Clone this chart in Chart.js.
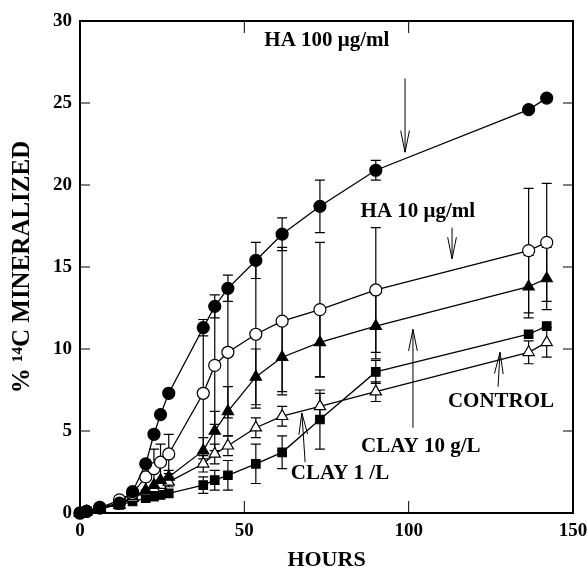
<!DOCTYPE html>
<html>
<head>
<meta charset="utf-8">
<script src="https://cdn.jsdelivr.net/npm/chart.js@4.4.0/dist/chart.umd.min.js"></script>
<style>
  html, body { margin: 0; padding: 0; background: #fff; }
</style>
</head>
<body>
<canvas id="chart" width="587" height="569"></canvas>
<script>
// sampling times (hours)
const hours = [0, 2, 6, 12, 16, 20, 22.5, 24.5, 27, 37.5, 41, 45, 53.5, 61.5, 73, 90, 136.5, 142];

// % 14C mineralized, one array per treatment
const ha100 = [0, 0.1, 0.35, 0.6, 1.3, 3.0, 4.8, 6.0, 7.3, 11.3, 12.6, 13.7, 15.4, 17.0, 18.7, 20.9, 24.6, 25.3];
const ha10 = [0, 0.1, 0.3, 0.8, 1.2, 2.2, 2.7, 3.1, 3.6, 7.3, 9.0, 9.8, 10.9, 11.7, 12.4, 13.6, 16.0, 16.5];
const clay10 = [0, 0.1, 0.3, 0.5, 1.0, 1.4, 1.7, 2.0, 2.2, 3.8, 5.0, 6.2, 8.3, 9.5, 10.4, 11.4, 13.8, 14.3];
const clay1 = [0, 0.1, 0.3, 0.5, 0.9, 1.3, 1.5, 1.7, 1.9, 3.0, 3.6, 4.1, 5.2, 5.9, 6.5, 7.4, 9.8, 10.4];
const control = [0, 0.1, 0.3, 0.5, 0.7, 0.9, 1.0, 1.1, 1.2, 1.7, 2.0, 2.3, 3.0, 3.7, 5.7, 8.6, 10.9, 11.4];

// error bars (+/-)
const ha100Err = [0, 0, 0, 0, 0, 0, 0, 0, 0, 0.5, 0.7, 0.8, 1.1, 1.0, 1.6, 0.6, 0, 0];
const ha10Err = [0, 0, 0, 0, 0, 0.8, 1.2, 1.1, 1.2, 4.0, 3.6, 4.0, 4.5, 4.5, 4.1, 3.8, 3.8, 3.6];
const clay10Err = [0, 0, 0, 0, 0, 0, 0, 0, 0.4, 0.8, 1.2, 1.5, 1.7, 2.1, 2.1, 2.0, 1.9, 1.9];
const clay1Err = [0, 0, 0, 0, 0, 0, 0, 0, 0.3, 0.5, 0.6, 0.6, 0.6, 0.6, 0.8, 0.6, 0.7, 0.9];
const controlErr = [0, 0, 0, 0, 0, 0, 0, 0, 0, 0.5, 0.6, 0.9, 1.2, 1.0, 1.8, 0.7, 0, 0];

const yTicks = [0, 5, 10, 15, 20, 25, 30];
const xTicks = [0, 50, 100, 150];

// labels and arrows drawn in the plot, in data units
const noteText = ['HA 100 \u03bcg/ml', 'HA 10 \u03bcg/ml', 'CONTROL', 'CLAY 10 g/L', 'CLAY 1 /L'];
const noteX = [75.1, 102.8, 128.1, 103.7, 79.1];
const noteY = [28.8, 18.35, 6.77, 4.02, 2.38];
const arrowFrom = [[98.9, 26.5], [113.2, 17.4], [127.2, 7.7], [101.3, 5.2], [68.5, 3.1]];
const arrowTo = [[98.9, 22.0], [113.2, 15.5], [127.8, 9.8], [101.3, 11.2], [67.5, 6.1]];

const serif = '"Liberation Serif", "DejaVu Serif", serif';

function pts(ys) {
  return hours.map((h, i) => ({ x: h, y: ys[i] }));
}

function series(label, ys, errs, style, fill, radius) {
  return {
    label: label,
    data: pts(ys),
    errors: errs,
    borderColor: '#000',
    borderWidth: 1.3,
    pointStyle: style,
    pointRadius: radius,
    pointBackgroundColor: fill,
    pointBorderColor: '#000',
    pointBorderWidth: 1.2,
    showLine: true,
    tension: 0,
    clip: false
  };
}

const errorBars = {
  id: 'errorBars',
  beforeDatasetsDraw(chart) {
    const ctx = chart.ctx;
    const ys = chart.scales.y;
    ctx.save();
    ctx.strokeStyle = '#000';
    ctx.lineWidth = 1.2;
    chart.data.datasets.forEach((ds, di) => {
      const meta = chart.getDatasetMeta(di);
      ds.errors.forEach((e, i) => {
        if (!e) return;
        const p = meta.data[i];
        const v = ds.data[i].y;
        const top = ys.getPixelForValue(v + e);
        const bot = ys.getPixelForValue(v - e);
        ctx.beginPath();
        ctx.moveTo(p.x, top); ctx.lineTo(p.x, bot);
        ctx.moveTo(p.x - 5, top); ctx.lineTo(p.x + 5, top);
        ctx.moveTo(p.x - 5, bot); ctx.lineTo(p.x + 5, bot);
        ctx.stroke();
      });
    });
    ctx.restore();
  }
};

const frame = {
  id: 'frame',
  afterDraw(chart) {
    const ctx = chart.ctx;
    const a = chart.chartArea;
    const xs = chart.scales.x, ys = chart.scales.y;
    ctx.save();
    ctx.strokeStyle = '#000';
    ctx.lineWidth = 2;
    ctx.strokeRect(a.left, a.top, a.right - a.left, a.bottom - a.top);
    ctx.lineWidth = 1;
    ctx.beginPath();
    yTicks.forEach(t => {
      const y = ys.getPixelForValue(t);
      ctx.moveTo(a.left, y); ctx.lineTo(a.left + 10, y);
      ctx.moveTo(a.right, y); ctx.lineTo(a.right - 10, y);
    });
    xTicks.forEach(t => {
      const x = xs.getPixelForValue(t);
      ctx.moveTo(x, a.bottom); ctx.lineTo(x, a.bottom - 12);
      ctx.moveTo(x, a.top); ctx.lineTo(x, a.top + 12);
    });
    ctx.stroke();

    // annotations
    ctx.fillStyle = '#000';
    ctx.font = 'bold 21px ' + serif;
    ctx.textAlign = 'center';
    ctx.textBaseline = 'middle';
    noteText.forEach((t, i) => {
      ctx.fillText(t, xs.getPixelForValue(noteX[i]), ys.getPixelForValue(noteY[i]));
    });
    ctx.lineWidth = 1;
    arrowFrom.forEach((f, i) => {
      const x1 = xs.getPixelForValue(f[0]), y1 = ys.getPixelForValue(f[1]);
      const x2 = xs.getPixelForValue(arrowTo[i][0]), y2 = ys.getPixelForValue(arrowTo[i][1]);
      const ang = Math.atan2(y2 - y1, x2 - x1);
      const len = 22, spread = 0.2;
      ctx.beginPath();
      ctx.moveTo(x1, y1); ctx.lineTo(x2, y2);
      ctx.moveTo(x2 - len * Math.cos(ang - spread), y2 - len * Math.sin(ang - spread));
      ctx.lineTo(x2, y2);
      ctx.lineTo(x2 - len * Math.cos(ang + spread), y2 - len * Math.sin(ang + spread));
      ctx.stroke();
    });
    ctx.restore();
  }
};

new Chart(document.getElementById('chart'), {
  type: 'scatter',
  data: {
    datasets: [
      series('HA 100 \u03bcg/ml', ha100, ha100Err, 'circle', '#000', 6),
      series('HA 10 \u03bcg/ml', ha10, ha10Err, 'circle', '#fff', 6),
      series('CLAY 10 g/L', clay10, clay10Err, 'triangle', '#000', 6.5),
      series('CLAY 1 /L', clay1, clay1Err, 'triangle', '#fff', 6.5),
      series('CONTROL', control, controlErr, 'rect', '#000', 6)
    ]
  },
  options: {
    responsive: false,
    animation: false,
    layout: { autoPadding: false, padding: { left: 0, right: 14, top: 21, bottom: 0 } },
    plugins: {
      legend: { display: false },
      tooltip: { enabled: false }
    },
    scales: {
      x: {
        type: 'linear',
        min: 0,
        max: 150,
        afterFit(scale) {
          scale.height = 56;
          scale.paddingLeft = 0;
          scale.paddingRight = 0;
        },
        afterBuildTicks(scale) { scale.ticks = xTicks.map(v => ({ value: v })); },
        grid: { display: false, drawTicks: false },
        border: { display: false },
        ticks: { color: '#000', padding: 7, font: { family: serif, size: 19, weight: 'bold' } },
        title: {
          display: true,
          text: 'HOURS',
          color: '#000',
          padding: { top: 1, bottom: 0 },
          font: { family: serif, size: 22, weight: 'bold', lineHeight: 0.8 }
        }
      },
      y: {
        type: 'linear',
        min: 0,
        max: 30,
        afterFit(scale) { scale.width = 80; },
        afterBuildTicks(scale) { scale.ticks = yTicks.map(v => ({ value: v })); },
        grid: { display: false, drawTicks: false },
        border: { display: false },
        ticks: { color: '#000', padding: 8, font: { family: serif, size: 19, weight: 'bold' } },
        title: {
          display: true,
          text: '% \u00b9\u2074C MINERALIZED',
          color: '#000',
          padding: { top: 8, bottom: 0 },
          font: { family: serif, size: 25, weight: 'bold' }
        }
      }
    }
  },
  plugins: [errorBars, frame]
});
</script>
</body>
</html>
